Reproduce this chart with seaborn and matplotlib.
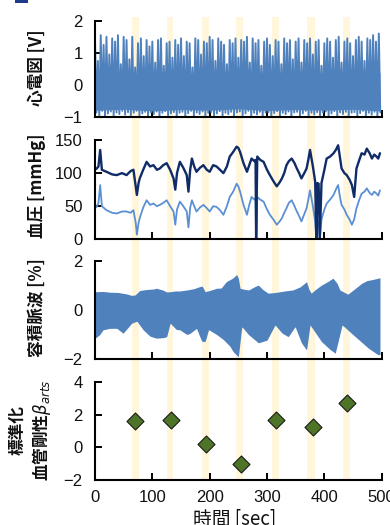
import numpy as np
import pandas as pd
import matplotlib
matplotlib.use("Agg")
import matplotlib.pyplot as plt
from matplotlib.patches import Rectangle
import seaborn as sns

# ---------------- data ----------------
# analysis windows (sec)
window_start = [64, 125, 186, 246, 308, 370, 432]
window_end = [76, 136, 198, 258, 321, 384, 445]

# ECG: peak and trough levels read every 5 s
ecg_time = list(range(0, 500, 5))
ecg_peak = [1.40, 0.75, 1.55, 1.25, 1.50, 0.95, 1.45, 1.35, 1.55, 0.65,
            1.50, 1.40, 0.80, 1.50, 0.55, 1.30, 1.45, 0.90, 1.40, 1.20,
            1.35, 0.70, 1.40, 1.45, 0.60, 1.30, 1.35, 0.85, 1.40, 1.25,
            1.45, 0.90, 1.35, 1.30, 0.55, 1.45, 1.40, 0.95, 1.35, 1.30,
            1.50, 1.40, 0.75, 1.45, 1.35, 1.25, 0.65, 1.40, 1.30, 1.45,
            0.85, 1.40, 1.35, 1.50, 0.70, 1.45, 1.30, 1.40, 0.60, 1.35,
            1.45, 1.25, 0.90, 1.40, 1.35, 0.65, 1.45, 1.30, 1.40, 0.80,
            1.35, 1.45, 0.70, 1.40, 1.30, 1.45, 0.95, 1.35, 1.40, 0.60,
            1.30, 1.45, 1.35, 0.85, 1.40, 1.50, 0.70, 1.35, 1.45, 1.30,
            0.90, 1.40, 1.50, 1.35, 0.75, 1.45, 1.40, 1.55, 1.35, 1.60]
ecg_trough = [-0.85, -0.95, -0.80, -0.98, -0.88, -0.82, -0.96, -0.85, -0.90, -0.80,
              -0.92, -0.84, -0.97, -0.86, -0.80, -0.95, -0.88, -0.83, -0.96, -0.85,
              -0.90, -0.82, -0.97, -0.86, -0.81, -0.94, -0.88, -0.84, -0.98, -0.86,
              -0.83, -0.95, -0.87, -0.80, -0.96, -0.85, -0.90, -0.82, -0.97, -0.86,
              -0.84, -0.95, -0.88, -0.81, -0.96, -0.86, -0.90, -0.83, -0.97, -0.85,
              -0.82, -0.94, -0.88, -0.80, -0.96, -0.86, -0.91, -0.83, -0.97, -0.85,
              -0.84, -0.95, -0.87, -0.81, -0.96, -0.86, -0.90, -0.82, -0.98, -0.85,
              -0.83, -0.95, -0.88, -0.80, -0.96, -0.86, -0.91, -0.84, -0.97, -0.85,
              -0.82, -0.94, -0.88, -0.81, -0.96, -0.85, -0.90, -0.83, -0.97, -0.86,
              -0.84, -0.95, -0.87, -0.80, -0.96, -0.86, -0.92, -0.83, -0.97, -0.85]
ecg_core_time = [0, 50, 100, 150, 200, 250, 300, 350, 400, 450, 497]
ecg_core_top = [0.40, 0.35, 0.42, 0.36, 0.40, 0.45, 0.38, 0.40, 0.36, 0.42, 0.40]
ecg_core_bottom = [-0.78, -0.75, -0.80, -0.76, -0.78, -0.74, -0.79, -0.76, -0.78, -0.75, -0.80]

# blood pressure (mmHg)
bp_time = [0, 3, 6, 9, 12, 20, 30, 38, 47, 55,
           62, 67, 71, 73, 76, 78, 84, 90, 96, 102,
           108, 113, 119, 125, 131, 137, 140, 143, 148, 154,
           160, 163, 166, 169, 173, 177, 183, 189, 195, 200,
           206, 212, 218, 224, 230, 235, 241, 247, 250, 253,
           259, 265, 269, 273, 278, 280, 281, 283, 288, 294,
           300, 305, 311, 317, 322, 326, 330, 334, 338, 343,
           348, 352, 356, 360, 365, 369, 372, 375, 380, 384,
           386, 388, 390, 392, 395, 400, 404, 410, 416, 420,
           424, 427, 430, 435, 439, 444, 448, 452, 456, 461,
           465, 470, 474, 479, 483, 487, 491, 494, 497]
bp_systolic = [105, 107, 110, 135, 105, 102, 98, 97, 100, 97,
               103, 105, 80, 67, 85, 92, 105, 117, 110, 112,
               105, 107, 112, 115, 105, 92, 75, 100, 117, 108,
               97, 72, 105, 122, 110, 102, 108, 112, 105, 102,
               112, 110, 105, 100, 110, 125, 132, 140, 138, 132,
               115, 102, 112, 122, 118, 120, 0, 125, 120, 117,
               105, 97, 88, 80, 86, 92, 100, 112, 118, 122,
               115, 107, 100, 92, 100, 107, 120, 135, 110, 87,
               0, 85, 84, 0, 85, 105, 122, 125, 130, 135,
               142, 125, 107, 100, 97, 90, 82, 64, 107, 120,
               130, 128, 137, 130, 122, 128, 125, 122, 130]
bp_diastolic = [48, 49, 55, 82, 50, 44, 40, 39, 42, 42,
                40, 44, 25, 7, 25, 32, 48, 59, 52, 54,
                50, 52, 55, 59, 50, 42, 22, 45, 57, 50,
                42, 18, 48, 59, 50, 42, 48, 52, 47, 42,
                50, 49, 44, 37, 50, 64, 72, 84, 80, 72,
                52, 37, 52, 64, 60, 62, 0, 64, 60, 57,
                45, 37, 30, 22, 27, 32, 40, 47, 55, 59,
                50, 42, 35, 27, 38, 47, 60, 74, 50, 27,
                0, 25, 27, 0, 30, 45, 54, 60, 67, 75,
                82, 65, 52, 45, 37, 30, 22, 30, 47, 60,
                69, 72, 77, 70, 67, 72, 69, 66, 74]

# photoplethysmogram envelope (%)
ppg_upper_time = [0, 14, 26, 40, 55, 64, 70, 78, 90, 102, 107, 118, 125, 131, 140,
                  148, 160, 172, 183, 187, 192, 200, 212, 220, 229, 240, 247, 250,
                  253, 260, 268, 278, 285, 292, 302, 315, 331, 345, 358, 369, 373,
                  377, 385, 395, 405, 415, 422, 427, 441, 452, 465, 474, 485, 494, 497]
ppg_upper = [0.75, 0.76, 0.73, 0.72, 0.66, 0.60, 0.62, 0.80, 0.84, 0.86, 0.89, 0.82,
             0.74, 0.75, 0.78, 0.78, 0.82, 0.87, 0.96, 0.98, 0.75, 0.80, 0.89, 0.90,
             1.16, 1.30, 1.45, 1.30, 0.89, 0.85, 0.82, 0.95, 1.02, 0.85, 0.69, 0.72,
             0.78, 0.82, 0.95, 1.16, 0.85, 0.69, 0.85, 1.02, 1.15, 1.30, 1.10, 0.82,
             0.65, 0.85, 1.09, 1.20, 1.25, 1.30, 1.32]
ppg_lower_time = [0, 8, 14, 26, 38, 49, 56, 64, 73, 84, 96, 107, 119, 125, 131, 142,
                  148, 160, 166, 177, 186, 192, 198, 212, 224, 235, 241, 250, 256,
                  268, 285, 300, 314, 326, 337, 349, 360, 369, 375, 395, 410, 419,
                  431, 454, 477, 494, 497]
ppg_lower = [-1.14, -1.00, -0.80, -0.74, -0.74, -0.94, -0.75, -0.53, -0.45, -0.80,
             -1.06, -1.14, -1.12, -1.08, -0.53, -0.79, -0.80, -0.99, -0.94, -0.74,
             -1.26, -1.28, -0.79, -0.99, -1.20, -1.46, -1.69, -1.90, -0.67, -1.00,
             -1.33, -1.22, -0.60, -0.93, -1.08, -0.67, -1.33, -1.62, -0.60, -1.28,
             -1.60, -1.75, -0.60, -1.08, -1.55, -1.82, -1.80]

# normalised arterial stiffness
beta_time = [70, 132, 193, 255, 316, 381, 439]
beta_value = [1.6, 1.65, 0.2, -1.0, 1.65, 1.25, 2.7]

x_ticks = [0, 100, 200, 300, 400, 500]
labels_y = ["心電図 [V]", "血圧 [mmHg]", "容積脈波 [%]", "標準化\n血管剛性$\\beta_{arts}$"]
label_x = "時間 [sec]"

# ---------------- style ----------------
sns.set_theme(style="ticks")
plt.rcParams["font.family"] = ["Liberation Sans", "DejaVu Sans"]
cjk = ["Noto Sans CJK JP", "DejaVu Sans"]

blue = "#4f81bd"
navy = "#0f2c68"
light = "#5b8fd4"
stripe = "#fff6db"
green = "#4e7428"

fig = plt.figure(figsize=(3.9, 5.25), dpi=100)
L, W = 0.2436, 0.7351
positions = [(0.7766, 0.1840), (0.5442, 0.1891), (0.3156, 0.1873), (0.0857, 0.1867)]

# stripes behind all panels
bg = fig.add_axes([L, 0.0857, W, 0.8819])
bg.set_xlim(0, 500)
bg.set_ylim(0, 1)
bg.axis("off")
for s, e in zip(window_start, window_end):
    bg.axvspan(s, e, color=stripe, lw=0)

axes = []
for b, h in positions:
    ax = fig.add_axes([L, b, W, h])
    ax.set_facecolor("none")
    axes.append(ax)

ax1, ax2, ax3, ax4 = axes

# ECG: solid core plus zig-zag between peaks and troughs
ax1.fill_between(ecg_core_time, ecg_core_bottom, ecg_core_top, color=blue, lw=0)
zig_t, zig_v = [], []
for t, p, q in zip(ecg_time, ecg_peak, ecg_trough):
    zig_t += [t, t + 2.5]
    zig_v += [p, q]
ecg_df = pd.DataFrame({"t": zig_t, "v": zig_v})
sns.lineplot(data=ecg_df, x="t", y="v", ax=ax1, color=blue, lw=1.4,
             estimator=None, sort=False)
ax1.set_ylim(-1, 2)
ax1.set_yticks([-1, 0, 1, 2])

# Blood pressure
bp = pd.DataFrame({"t": bp_time, "sys": bp_systolic, "dia": bp_diastolic})
sns.lineplot(data=bp, x="t", y="dia", ax=ax2, color=light, lw=1.3, estimator=None, sort=False)
sns.lineplot(data=bp, x="t", y="sys", ax=ax2, color=navy, lw=1.7, estimator=None, sort=False)
ax2.set_ylim(0, 150)
ax2.set_yticks([0, 50, 100, 150])

# PPG
grid = np.linspace(0, 497, 600)
up = np.interp(grid, ppg_upper_time, ppg_upper)
lo = np.interp(grid, ppg_lower_time, ppg_lower)
ax3.fill_between(grid, lo, up, color=blue, lw=0)
ax3.set_ylim(-2, 2)
ax3.set_yticks([-2, 0, 2])

# Stiffness
sns.scatterplot(x=beta_time, y=beta_value, ax=ax4, marker="D", s=75, color=green,
                edgecolor="#1a1a1a", linewidth=0.8, zorder=3, clip_on=False)
ax4.set_ylim(-2, 4)
ax4.set_yticks([-2, 0, 2, 4])

for i, ax in enumerate(axes):
    ax.set_xlim(0, 500)
    ax.set_xticks(x_ticks)
    ax.set_xlabel("")
    ax.set_ylabel("")
    for sp in ("top", "right"):
        ax.spines[sp].set_visible(False)
    for sp in ("left", "bottom"):
        ax.spines[sp].set_linewidth(1.5)
        ax.spines[sp].set_color("black")
    ax.tick_params(axis="both", direction="in", length=5, width=1.4, color="black",
                   labelsize=12, labelcolor="#111111")
    ax.tick_params(axis="y", pad=9)
    ax.tick_params(axis="x", pad=7)
    if i < 3:
        ax.set_xticklabels([])
    else:
        ax.set_xticklabels([str(v) for v in x_ticks])

label_pos = [(37 / 390, 1 - 67.5 / 525), (37 / 390, 1 - 186 / 525),
             (37 / 390, 1 - 308 / 525), (31 / 390, 1 - 430 / 525)]
for (x, y), txt in zip(label_pos, labels_y):
    fig.text(x, y, txt, rotation=90, ha="center", va="center", fontsize=12,
             fontweight="bold", family=cjk, multialignment="center", color="#111111")

fig.text(235 / 390, 1 - 508 / 525, label_x, ha="center", va="top", fontsize=13.5,
         family=cjk, color="#111111")

fig.patches.append(Rectangle((15 / 390, 1 - 2.7 / 525), 13 / 390, 2.7 / 525,
                             transform=fig.transFigure, color="#1f3a8a", lw=0))

fig.savefig("out.png", dpi=100)
